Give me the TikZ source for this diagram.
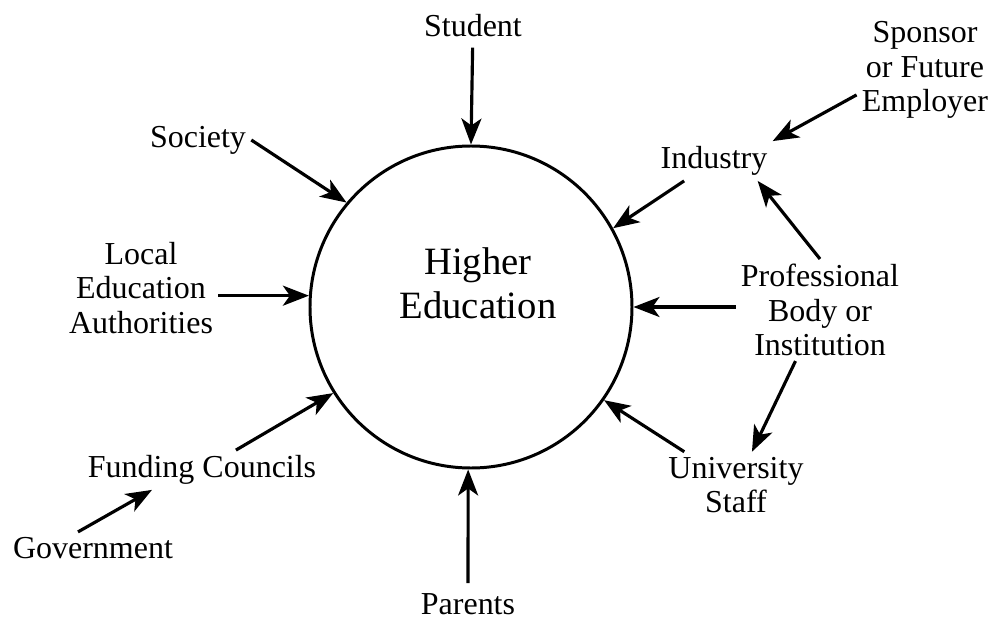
\documentclass[tikz,border=0pt]{standalone}
\usepackage{fontspec}
\setmainfont{Liberation Serif}
\usetikzlibrary{arrows.meta}

\begin{document}
\begin{tikzpicture}[
		lbl/.style={align=center, inner sep=0.1cm, font=\fontsize{18.2}{19.5}\selectfont},
		arr/.style={-{Stealth[length=0.52cm,width=0.4cm,inset=0.14cm]}, line width=1.8pt}
	]
		\useasboundingbox (-9.42,-6.24) rectangle (10.44,6.14);
		\node[draw, circle, line width=1.7pt, minimum size=6.44cm] (he) at (0,0) {};
		\node[align=center, font=\fontsize{22}{25}\selectfont] (hetxt) at (0.14,0.47) {Higher\\Education};
		\node[lbl] (student) at (0.04,5.62) {Student};
		\node[lbl] (society) at (-5.46,3.34) {Society};
		\node[lbl] (lea) at (-6.6,0.38) {Local\\Education\\Authorities};
		\node[lbl] (funding) at (-5.38,-3.26) {Funding Councils};
		\node[lbl] (government) at (-7.56,-4.82) {Government};
		\node[lbl] (parents) at (-0.06,-5.94) {Parents};
		\node[lbl] (university) at (5.3,-3.56) {University\\Staff};
		\node[lbl] (professional) at (6.98,-0.06) {Professional\\Body or\\Institution};
		\node[lbl] (industry) at (4.86,2.92) {Industry};
		\node[lbl] (sponsor) at (9.08,4.74) {Sponsor\\or Future\\Employer};
		\draw[arr, shorten <=0.1cm] (student) -- (he.90);
		\draw[arr] (society.east) -- (he.140);
		\draw[arr] (lea.east |- he.176) -- (he.176);
		\draw[arr] (funding) -- (he.212);
		\draw[arr] ([xshift=-0.3cm]government.north) -- ([xshift=-1cm]funding.south);
		\draw[arr, shorten <=0.1cm] (parents) -- (he.269);
		\draw[arr] (university) -- (he.325);
		\draw[arr] (professional.west |- he.0) -- (he.0);
		\draw[arr] (professional) -- (university);
		\draw[arr] (professional.north) -- ([xshift=-0.3cm]industry.south east);
		\draw[arr] (industry) -- (he.29);
		\draw[arr] (sponsor.200) -- (industry.north east);
	\end{tikzpicture}
\end{document}
